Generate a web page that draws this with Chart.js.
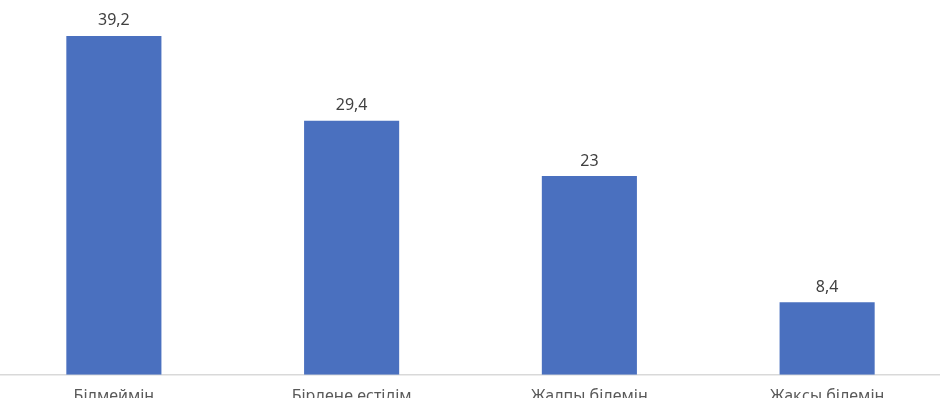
<!DOCTYPE html>
<html>
<head>
<meta charset="utf-8">
<script src="https://cdn.jsdelivr.net/npm/chart.js@4/dist/chart.umd.min.js"></script>
<style>
  html, body { margin: 0; padding: 0; background: #fff; overflow: hidden; }
  #wrap { position: absolute; left: -5px; top: 0; width: 951px; height: 410px; }
</style>
</head>
<body>
<div id="wrap"><canvas id="chart"></canvas></div>
<script>
// Деректер
const categories = ['Білмеймін', 'Бірдеңе естідім', 'Жалпы білемін', 'Жақсы білемін'];
const values = [39.2, 29.4, 23, 8.4];

function fmt(v) {
  return String(v).replace('.', ',');
}

// мәндерді бағандардың үстіне жазу
const valueLabels = {
  id: 'valueLabels',
  afterDatasetsDraw(chart) {
    const ctx = chart.ctx;
    const meta = chart.getDatasetMeta(0);
    ctx.save();
    ctx.font = '16px "Noto Sans"';
    ctx.fillStyle = '#404040';
    ctx.textAlign = 'center';
    ctx.textBaseline = 'bottom';
    meta.data.forEach(function(bar, i) {
      ctx.fillText(fmt(values[i]), bar.x, bar.y - 7);
    });
    ctx.restore();
  }
};

new Chart(document.getElementById('chart'), {
  type: 'bar',
  data: {
    labels: categories,
    datasets: [{
      data: values,
      backgroundColor: '#4a70bf',
      borderWidth: 0,
      barPercentage: 0.8,
      categoryPercentage: 0.5
    }]
  },
  options: {
    responsive: true,
    maintainAspectRatio: false,
    animation: false,
    layout: {
      padding: { top: 29, left: 0, right: 0, bottom: 0 }
    },
    plugins: {
      legend: { display: false },
      tooltip: { enabled: false }
    },
    scales: {
      x: {
        grid: { display: false },
        border: { display: true, color: '#d9d9d9', width: 1.5 },
        ticks: {
          color: '#595959',
          padding: 4,
          font: { family: 'Noto Sans', size: 16 }
        }
      },
      y: {
        display: false,
        min: 0,
        max: 40
      }
    }
  },
  plugins: [valueLabels]
});
</script>
</body>
</html>
